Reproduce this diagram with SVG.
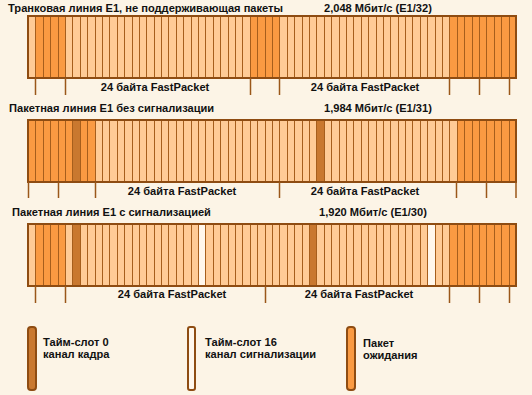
<svg xmlns="http://www.w3.org/2000/svg" xmlns:xlink="http://www.w3.org/1999/xlink" width="532" height="395" viewBox="0 0 532 395">
<style>
.bg{fill:#FCF4E6}
.lt{fill:#FFCB96}
.or{fill:#FA9A42}
.dk{fill:#C9782F}
.wh{fill:#FFF7EC}
.brd{fill:none;stroke:#8E4C12;stroke-width:2}
.sep{fill:none;stroke:#A65E1C;stroke-width:1}
.tk{stroke:#9A571A;stroke-width:1.5}
text{font-family:"Liberation Sans",Arial,sans-serif;font-size:11.1px;font-weight:bold;fill:#111}
.lg{stroke:#8E4C12;stroke-width:2}
</style>
<defs>
<path id="sep" class="sep" d="M35.5 0v62M43.5 0v62M50.5 0v62M58.5 0v62M65.5 0v62M72.5 0v62M80.5 0v62M87.5 0v62M95.5 0v62M102.5 0v62M109.5 0v62M117.5 0v62M124.5 0v62M132.5 0v62M139.5 0v62M146.5 0v62M154.5 0v62M161.5 0v62M168.5 0v62M176.5 0v62M183.5 0v62M191.5 0v62M198.5 0v62M205.5 0v62M213.5 0v62M220.5 0v62M228.5 0v62M235.5 0v62M242.5 0v62M250.5 0v62M257.5 0v62M265.5 0v62M272.5 0v62M279.5 0v62M287.5 0v62M294.5 0v62M302.5 0v62M309.5 0v62M316.5 0v62M324.5 0v62M331.5 0v62M339.5 0v62M346.5 0v62M353.5 0v62M361.5 0v62M368.5 0v62M376.5 0v62M383.5 0v62M390.5 0v62M398.5 0v62M405.5 0v62M412.5 0v62M420.5 0v62M427.5 0v62M435.5 0v62M442.5 0v62M449.5 0v62M457.5 0v62M464.5 0v62M472.5 0v62M479.5 0v62M486.5 0v62M494.5 0v62M501.5 0v62M509.5 0v62"/>
</defs>
<rect class="bg" x="0" y="0" width="532" height="395"/>

<g id="line1">
<text x="8" y="12">Транковая линия E1, не поддерживающая пакеты</text>
<text x="324" y="12">2,048 Мбит/с (E1/32)</text>
<rect class="lt" x="28" y="16" width="488" height="62"/>
<rect class="or" x="35" y="16" width="30" height="62"/>
<rect class="or" x="250" y="16" width="29" height="62"/>
<rect class="or" x="449" y="16" width="67" height="62"/>
<use xlink:href="#sep" href="#sep" x="0" y="16"/>
<rect class="brd" x="28" y="16" width="488" height="62"/>
<text x="155" y="91" text-anchor="middle">24 байта FastPacket</text>
<text x="365" y="91" text-anchor="middle">24 байта FastPacket</text>
</g>

<g id="line2">
<text x="9" y="112">Пакетная линия E1 без сигнализации</text>
<text x="324" y="112">1,984 Мбит/с (E1/31)</text>
<rect class="lt" x="28" y="120" width="488" height="62"/>
<rect class="or" x="28" y="120" width="67" height="62"/>
<rect class="dk" x="72" y="120" width="8" height="62"/>
<rect class="dk" x="316" y="120" width="8" height="62"/>
<rect class="or" x="457" y="120" width="59" height="62"/>
<use xlink:href="#sep" href="#sep" x="0" y="120"/>
<rect class="brd" x="28" y="120" width="488" height="62"/>
<text x="182" y="195" text-anchor="middle">24 байта FastPacket</text>
<text x="365" y="195" text-anchor="middle">24 байта FastPacket</text>
</g>

<g id="line3">
<text x="12" y="216">Пакетная линия E1 с сигнализацией</text>
<text x="319" y="216">1,920 Мбит/с (E1/30)</text>
<rect class="lt" x="28" y="224" width="488" height="62"/>
<rect class="or" x="35" y="224" width="30" height="62"/>
<rect class="dk" x="72" y="224" width="8" height="62"/>
<rect class="wh" x="198" y="224" width="7" height="62"/>
<rect class="dk" x="309" y="224" width="7" height="62"/>
<rect class="wh" x="427" y="224" width="8" height="62"/>
<rect class="or" x="449" y="224" width="67" height="62"/>
<use xlink:href="#sep" href="#sep" x="0" y="224"/>
<rect class="brd" x="28" y="224" width="488" height="62"/>
<text x="172" y="298" text-anchor="middle">24 байта FastPacket</text>
<text x="359" y="298" text-anchor="middle">24 байта FastPacket</text>
</g>

<g id="connectors" class="tk">
<path d="M35.5 78v17M65.5 78v17M250.5 78v17M279.5 78v17M449.5 78v17M479.5 78v17M509.5 78v17"/>
<path d="M28.5 182v16M58.5 182v16M95.5 182v16M279.5 182v16M456.5 182v16M486.5 182v16M516 182v16"/>
<path d="M35.5 286v17M65.5 286v17M265.5 286v17M449.5 286v17M479.5 286v17M509.5 286v17"/>
</g>

<g id="legend-slot0">
<rect class="lg dk" x="28" y="327" width="8" height="63" rx="3"/>
<text x="43" y="346">Тайм-слот 0</text>
<text x="43" y="358">канал кадра</text>
</g>
<g id="legend-slot16">
<rect class="lg wh" x="188" y="327" width="7" height="63" rx="2"/>
<text x="205" y="346">Тайм-слот 16</text>
<text x="205" y="358">канал сигнализации</text>
</g>
<g id="legend-idle">
<rect class="lg or" x="347" y="327" width="8" height="63" rx="3"/>
<text x="363" y="347">Пакет</text>
<text x="363" y="359">ожидания</text>
</g>
</svg>
